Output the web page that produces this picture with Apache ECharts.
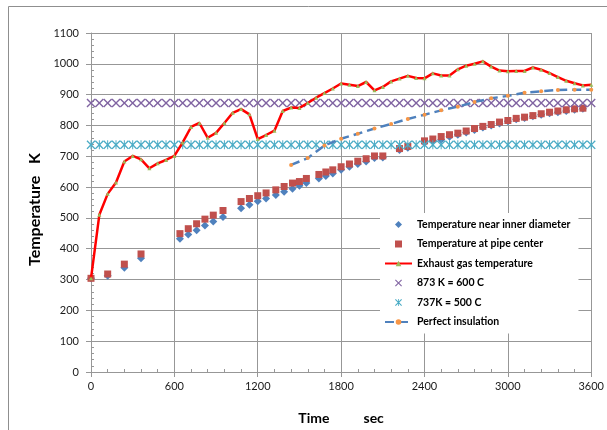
<!DOCTYPE html>
<html>
<head>
<meta charset="utf-8">
<script src="https://cdn.jsdelivr.net/npm/echarts@6/dist/echarts.min.js"></script>
<style>
  html, body { margin: 0; padding: 0; background: #fff; }
  #chart { width: 607px; height: 430px; }
</style>
</head>
<body>
<div id="chart"></div>
<script>
// Wall thermocouple readings (time in s, temperature in K)
const wallTimes = [
  0, 120, 240, 360, 640, 700, 760, 820, 880, 950,
  1080, 1140, 1200, 1260, 1330, 1390, 1450, 1500, 1550, 1640,
  1690, 1740, 1800, 1860, 1920, 1980, 2040, 2100, 2220, 2280,
  2400, 2460, 2520, 2580, 2640, 2700, 2760, 2820, 2880, 2940,
  3000, 3060, 3120, 3180, 3240, 3300, 3360, 3420, 3480, 3540
];
const innerDiameterTemps = [
  304, 312, 338, 369, 432, 446, 460, 475, 488, 503,
  531, 543, 554, 563, 574, 585, 595, 604, 613, 628,
  636, 644, 656, 666, 675, 683, 694, 696, 720, 728,
  744, 750, 754, 763, 770, 777, 785, 793, 800, 806,
  814, 820, 824, 830, 835, 840, 843, 847, 851, 854
];
const pipeCenterTemps = [
  304, 318, 350, 383, 449, 465, 481, 496, 509, 524,
  553, 563, 572, 581, 591, 602, 613, 618, 628, 641,
  649, 656, 666, 675, 684, 692, 701, 701, 725, 732,
  750, 756, 764, 770, 775, 782, 790, 797, 803, 811,
  816, 823, 827, 832, 838, 843, 847, 851, 854, 856
];

// One-minute sampling grid for the gas log and the limit lines
const minuteTimes = [
  0, 60, 120, 180, 240, 300, 360, 420, 480, 540,
  600, 660, 720, 780, 840, 900, 960, 1020, 1080, 1140,
  1200, 1260, 1320, 1380, 1440, 1500, 1560, 1620, 1680, 1740,
  1800, 1860, 1920, 1980, 2040, 2100, 2160, 2220, 2280, 2340,
  2400, 2460, 2520, 2580, 2640, 2700, 2760, 2820, 2880, 2940,
  3000, 3060, 3120, 3180, 3240, 3300, 3360, 3420, 3480, 3540,
  3600
];
const exhaustTemps = [
  304, 510, 578, 615, 683, 701, 690, 661, 677, 688,
  701, 745, 795, 808, 760, 776, 808, 841, 853, 836,
  756, 769, 783, 847, 858, 857, 873, 890, 905, 920,
  936, 932, 928, 941, 914, 925, 943, 952, 961, 954,
  953, 969, 962, 962, 982, 994, 1000, 1008, 991, 978,
  976, 977, 977, 988, 981, 970, 957, 945, 937, 930,
  932
];

// Model prediction for a perfectly insulated pipe
const insulationTimes = [
  1440, 1560, 1680, 1800, 1920, 2040, 2160, 2280, 2400, 2520,
  2640, 2760, 2880, 3000, 3120, 3240, 3360, 3480, 3600
];
const insulationTemps = [
  672, 694, 735, 757, 773, 790, 805, 821, 835, 849,
  861, 876, 888, 896, 906, 911, 915, 916, 916
];

// Material limits (K)
const limit600C = 873;
const limit500C = 737;

// Axis ranges
const timeAxis = { min: 0, max: 3600, step: 600 };
const tempAxis = { min: 0, max: 1100, step: 100 };

const seriesNames = [
  'Temperature near inner diameter',
  'Temperature at pipe center',
  'Exhaust gas temperature',
  '873 K = 600 C',
  '737K = 500 C',
  'Perfect insulation'
];

const colors = {
  inner: '#4f81bd',
  center: '#c0504d',
  gas: '#ff0000',
  gasMarker: '#9bbb59',
  limitHigh: '#8064a2',
  limitLow: '#4bacc6',
  ideal: '#4f81bd',
  idealMarker: '#f79646'
};

const pairs = (xs, ys) => xs.map((x, i) => [x, ys[i]]);
const constantLine = (xs, v) => xs.map(x => [x, v]);

// Marker outlines (filled paths so they keep their aspect in the legend)
const diamondPath = 'path://M5,0L10,5L5,10L0,5Z';
const squarePath = 'path://M0,0L10,0L10,10L0,10Z';
const crossPath = 'path://M0,1.1L1.1,0L5,3.9L8.9,0L10,1.1L6.1,5L10,8.9L8.9,10L5,6.1L1.1,10L0,8.9L3.9,5Z';
const starPath = crossPath + 'M4.45,0L5.55,0L5.55,10L4.45,10Z';

const gridGray = '#979797';
const font = 'Lato';
const plainNumber = v => String(v);

const chart = echarts.init(document.getElementById('chart'), null, { renderer: 'canvas' });

chart.setOption({
  animation: false,
  backgroundColor: '#fff',
  textStyle: { fontFamily: font },
  graphic: [{
    type: 'rect',
    silent: true,
    shape: { x: 8.5, y: 6.5, width: 720, height: 520 },
    style: { fill: 'none', stroke: '#8f8f8f', lineWidth: 1 }
  }],
  grid: { left: 91, top: 33, right: 13, bottom: 57, containLabel: false },
  legend: {
    orient: 'vertical',
    left: 380,
    top: 213,
    padding: [6, 8, 6, 4],
    backgroundColor: '#fff',
    itemWidth: 27,
    itemHeight: 7,
    itemGap: 8.5,
    symbolKeepAspect: true,
    textStyle: { fontFamily: font, fontSize: 10.5, fontWeight: 'bold', color: '#000' },
    data: [
      { name: seriesNames[0], icon: diamondPath, itemStyle: { color: colors.inner } },
      { name: seriesNames[1], icon: squarePath, itemStyle: { color: colors.center } },
      { name: seriesNames[2] },
      { name: seriesNames[3], icon: crossPath, itemStyle: { color: colors.limitHigh } },
      { name: seriesNames[4], icon: starPath, itemStyle: { color: colors.limitLow } },
      { name: seriesNames[5] }
    ]
  },
  xAxis: {
    type: 'value',
    min: timeAxis.min,
    max: timeAxis.max,
    interval: timeAxis.step,
    name: 'Time          sec',
    nameLocation: 'middle',
    nameGap: 39,
    nameTextStyle: { fontFamily: font, fontSize: 14, fontWeight: 'bold', color: '#000' },
    axisLine: { show: true, lineStyle: { color: gridGray, width: 1 } },
    axisTick: { show: true, length: 5, lineStyle: { color: gridGray } },
    minorTick: { show: true, splitNumber: 5, length: -3, lineStyle: { color: gridGray } },
    axisLabel: { fontFamily: font, fontSize: 11, color: '#1a1a1a', margin: 9, formatter: plainNumber },
    splitLine: { show: true, lineStyle: { color: gridGray, width: 1 } }
  },
  yAxis: {
    type: 'value',
    min: tempAxis.min,
    max: tempAxis.max,
    interval: tempAxis.step,
    name: 'Temperature   K',
    nameLocation: 'middle',
    nameGap: 39,
    nameTextStyle: { fontFamily: font, fontSize: 16, fontWeight: 'bold', color: '#000', padding: [0, 14, 0, 0] },
    axisLine: { show: true, lineStyle: { color: gridGray, width: 1 } },
    axisTick: { show: true, length: 5, lineStyle: { color: gridGray } },
    minorTick: { show: true, splitNumber: 5, length: -3, lineStyle: { color: gridGray } },
    axisLabel: { fontFamily: font, fontSize: 11, color: '#1a1a1a', margin: 12, formatter: plainNumber },
    splitLine: { show: true, lineStyle: { color: gridGray, width: 1 } }
  },
  series: [
    {
      name: seriesNames[0],
      type: 'scatter',
      symbol: 'diamond',
      symbolSize: 8,
      itemStyle: { color: colors.inner, opacity: 1 },
      data: pairs(wallTimes, innerDiameterTemps)
    },
    {
      name: seriesNames[1],
      type: 'scatter',
      symbol: 'rect',
      symbolSize: 7,
      itemStyle: { color: colors.center, opacity: 1 },
      data: pairs(wallTimes, pipeCenterTemps)
    },
    {
      name: seriesNames[2],
      type: 'line',
      symbol: 'triangle',
      symbolSize: 4,
      showSymbol: true,
      lineStyle: { color: colors.gas, width: 2.5 },
      itemStyle: { color: colors.gasMarker },
      data: pairs(minuteTimes, exhaustTemps)
    },
    {
      name: seriesNames[3],
      type: 'scatter',
      symbol: crossPath,
      symbolSize: 9,
      itemStyle: { color: colors.limitHigh, opacity: 1 },
      data: constantLine(minuteTimes, limit600C)
    },
    {
      name: seriesNames[4],
      type: 'scatter',
      symbol: starPath,
      symbolSize: 9,
      itemStyle: { color: colors.limitLow, opacity: 1 },
      data: constantLine(minuteTimes, limit500C)
    },
    {
      name: seriesNames[5],
      type: 'line',
      symbol: 'circle',
      symbolSize: 4,
      showSymbol: true,
      lineStyle: { color: colors.ideal, width: 2.5, type: [9, 5] },
      itemStyle: { color: colors.idealMarker, borderWidth: 0 },
      data: pairs(insulationTimes, insulationTemps)
    }
  ]
});
</script>
</body>
</html>
